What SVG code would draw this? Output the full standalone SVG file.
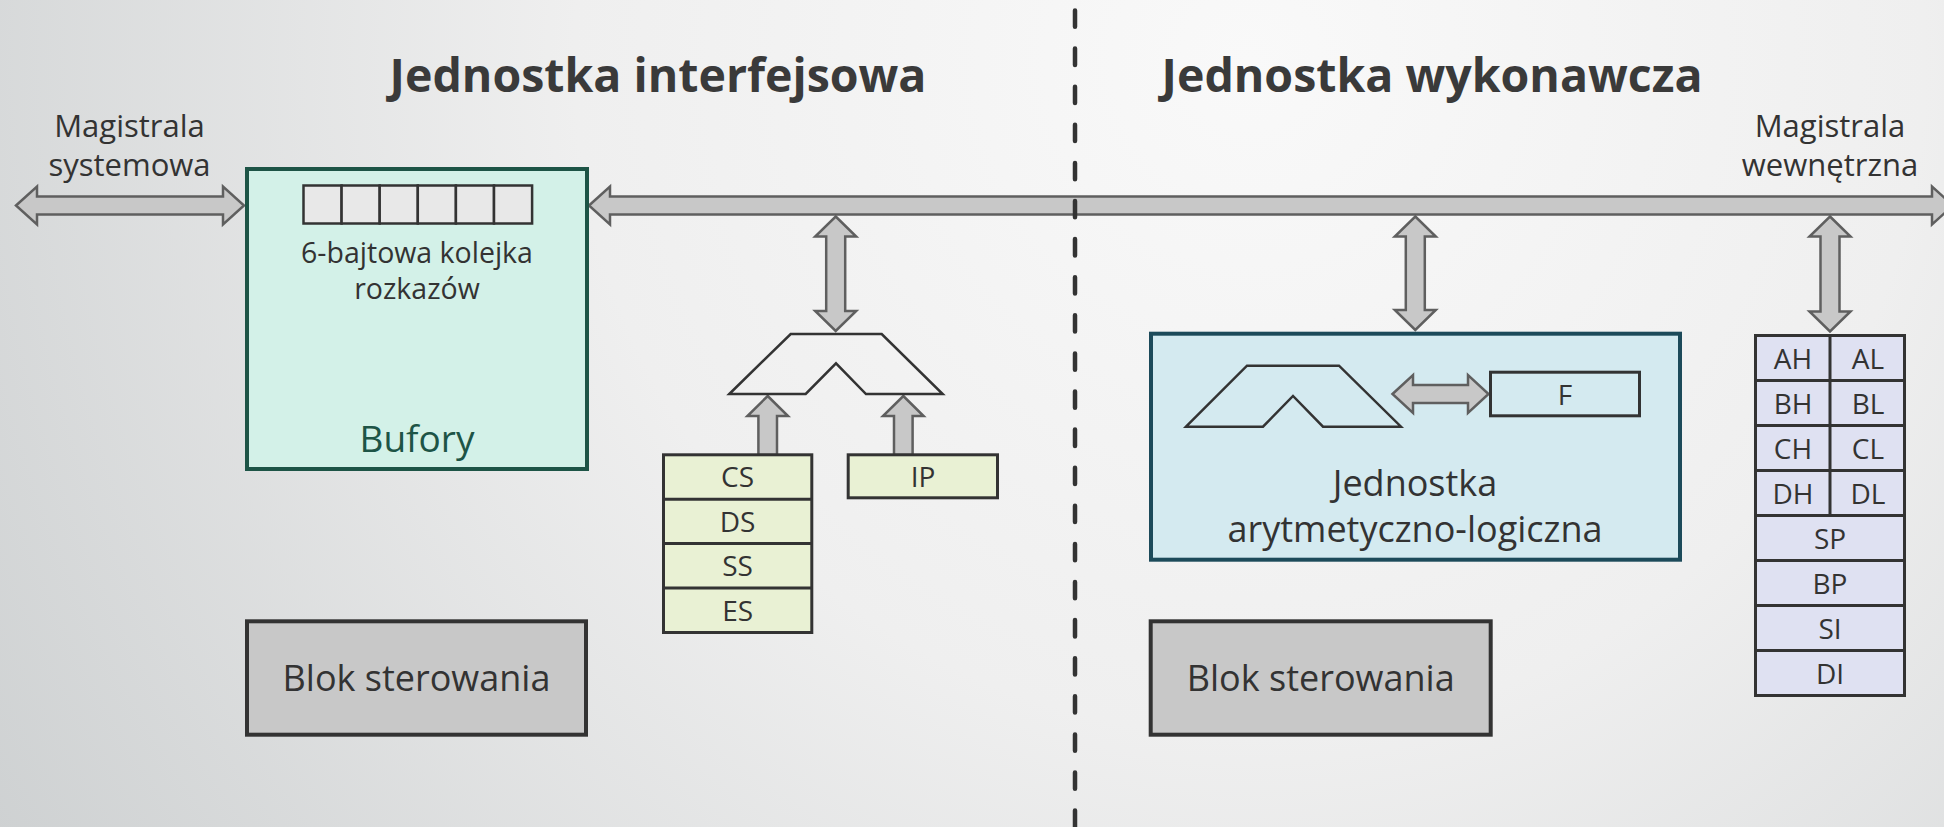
<svg xmlns="http://www.w3.org/2000/svg" width="1944" height="827" viewBox="0 0 1944 827">
<defs>
<radialGradient id="bg" cx="1250" cy="60" r="1500" gradientUnits="userSpaceOnUse">
<stop offset="0" stop-color="#f9f9f9"/>
<stop offset="0.45" stop-color="#efefef"/>
<stop offset="1" stop-color="#cdd0d1"/>
</radialGradient>
<style>
text{font-family:"Open Sans","Noto Sans","DejaVu Sans",sans-serif;fill:#333333;text-anchor:middle}
.title{font-weight:bold;font-size:46.5px;fill:#3a3a3a}
.lbl{font-size:31px}
.reg{font-size:28px}
.q{font-size:28.5px}
.arrow{fill:#c8c8c8;stroke:#5f5f5f;stroke-width:2.5;stroke-linejoin:miter}
.box{stroke:#333333;stroke-width:3}
.mux{fill:none;stroke:#333333;stroke-width:2.5;stroke-linejoin:miter}
.seg{fill:#e9f1d4}
.gp{fill:#dfe1f2}
.ctl{fill:#c8c8c8;stroke:#333333;stroke-width:4}
</style>
</defs>
<rect x="0" y="0" width="1944" height="827" fill="url(#bg)"/>

<text class="title" x="658" y="92">Jednostka interfejsowa</text>
<text class="title" x="1432" y="92">Jednostka wykonawcza</text>

<g id="label-system-bus">
<text class="lbl" x="129.5" y="137">Magistrala<tspan x="129.5" y="176">systemowa</tspan></text>
</g>
<g id="label-internal-bus">
<text class="lbl" x="1830" y="137">Magistrala<tspan x="1830" y="176">wewnętrzna</tspan></text>
</g>

<g id="connectors">
<polygon class="arrow" points="16,205.5 37,186.5 37,196.5 223,196.5 223,186.5 244,205.5 223,224.5 223,214.5 37,214.5 37,224.5"/>
<polygon class="arrow" points="589,205.5 610,186.5 610,196.5 1932,196.5 1932,186.5 1953,205.5 1932,224.5 1932,214.5 610,214.5 610,224.5"/>
<polygon class="arrow" points="835.7,216.5 856.2,236.5 845.2,236.5 845.2,311 856.2,311 835.7,331 815.2,311 826.2,311 826.2,236.5 815.2,236.5"/>
<polygon class="arrow" points="1415.3,216.5 1435.8,236.5 1424.8,236.5 1424.8,310 1435.8,310 1415.3,330 1394.8,310 1405.8,310 1405.8,236.5 1394.8,236.5"/>
<polygon class="arrow" points="1830,216.5 1850.5,236.5 1839.5,236.5 1839.5,311.5 1850.5,311.5 1830,331.5 1809.5,311.5 1820.5,311.5 1820.5,236.5 1809.5,236.5"/>
<polygon class="arrow" points="767.7,396 788,416 777,416 777,455 758.4,455 758.4,416 747.4,416"/>
<polygon class="arrow" points="903.3,396 923.6,416 912.6,416 912.6,455 894,455 894,416 883,416"/>
</g>

<g id="bufory">
<rect x="247" y="169" width="340" height="300" fill="#d3f1e8" stroke="#1d5446" stroke-width="4"/>
<g fill="#e8e8e8" stroke="#333333" stroke-width="2.5">
<rect x="303.5" y="185.5" width="38.1" height="38"/>
<rect x="341.6" y="185.5" width="38.1" height="38"/>
<rect x="379.7" y="185.5" width="38.1" height="38"/>
<rect x="417.8" y="185.5" width="38.1" height="38"/>
<rect x="455.9" y="185.5" width="38.1" height="38"/>
<rect x="494" y="185.5" width="38.1" height="38"/>
</g>
<text class="q" x="417" y="263">6-bajtowa kolejka<tspan x="417" y="299">rozkazów</tspan></text>
<text x="417" y="452" style="font-size:37px;fill:#1d5446">Bufory</text>
</g>

<g id="address-adder">
<path class="mux" d="M729.3,394 L790.7,334 L881.7,334 L942.7,394 L866,394 L836,363.3 L805.7,394 Z"/>
</g>

<g id="segment-registers">
<rect class="box seg" x="663.5" y="454.8" width="148.3" height="177.7"/>
<line class="box" x1="663.5" y1="499.2" x2="811.8" y2="499.2"/>
<line class="box" x1="663.5" y1="543.6" x2="811.8" y2="543.6"/>
<line class="box" x1="663.5" y1="588" x2="811.8" y2="588"/>
<text class="reg" x="737.6" y="487">CS</text>
<text class="reg" x="737.6" y="531.5">DS</text>
<text class="reg" x="737.6" y="576">SS</text>
<text class="reg" x="737.6" y="620.5">ES</text>
</g>

<g id="ip">
<rect class="box seg" x="848.2" y="454.8" width="149.3" height="43"/>
<text class="reg" x="923" y="487">IP</text>
</g>

<g id="blok-sterowania-biu">
<rect class="ctl" x="247" y="621.3" width="339" height="113.4"/>
<text x="416.5" y="691" style="font-size:36px">Blok sterowania</text>
</g>

<g id="alu">
<rect x="1151" y="333.7" width="529" height="226" fill="#d4eaf0" stroke="#1c4a5a" stroke-width="4"/>
<path class="mux" d="M1186,426.7 L1247,365.7 L1339,365.7 L1401,426.7 L1323,426.7 L1293,396 L1263,426.7 Z"/>
<polygon class="arrow" points="1392.5,394 1413,375 1413,385 1468,385 1468,375 1488.5,394 1468,413 1468,403 1413,403 1413,413"/>
<text x="1415" y="496" style="font-size:36px">Jednostka<tspan x="1415" y="541.5">arytmetyczno-logiczna</tspan></text>
</g>

<g id="flags">
<rect class="box" x="1490.5" y="372.2" width="149" height="43.6" fill="#d4eaf0"/>
<text class="reg" x="1565" y="405">F</text>
</g>

<g id="blok-sterowania-eu">
<rect class="ctl" x="1150.7" y="621.3" width="340" height="113.4"/>
<text x="1320.7" y="691" style="font-size:36px">Blok sterowania</text>
</g>

<g id="general-registers">
<rect class="box gp" x="1755.5" y="335.5" width="149" height="360"/>
<line class="box" x1="1755.5" y1="380.5" x2="1904.5" y2="380.5"/>
<line class="box" x1="1755.5" y1="425.5" x2="1904.5" y2="425.5"/>
<line class="box" x1="1755.5" y1="470.5" x2="1904.5" y2="470.5"/>
<line class="box" x1="1755.5" y1="515.5" x2="1904.5" y2="515.5"/>
<line class="box" x1="1755.5" y1="560.5" x2="1904.5" y2="560.5"/>
<line class="box" x1="1755.5" y1="605.5" x2="1904.5" y2="605.5"/>
<line class="box" x1="1755.5" y1="650.5" x2="1904.5" y2="650.5"/>
<line class="box" x1="1830" y1="335.5" x2="1830" y2="515.5"/>
<text class="reg" x="1793" y="369">AH</text>
<text class="reg" x="1868" y="369">AL</text>
<text class="reg" x="1793" y="414">BH</text>
<text class="reg" x="1868" y="414">BL</text>
<text class="reg" x="1793" y="459">CH</text>
<text class="reg" x="1868" y="459">CL</text>
<text class="reg" x="1793" y="504">DH</text>
<text class="reg" x="1868" y="504">DL</text>
<text class="reg" x="1830" y="549">SP</text>
<text class="reg" x="1830" y="594">BP</text>
<text class="reg" x="1830" y="639">SI</text>
<text class="reg" x="1830" y="684">DI</text>
</g>

<line id="divider" x1="1075" y1="10.5" x2="1075" y2="827" stroke="#333333" stroke-width="4.5" stroke-linecap="round" stroke-dasharray="16.3 21.8"/>
</svg>
